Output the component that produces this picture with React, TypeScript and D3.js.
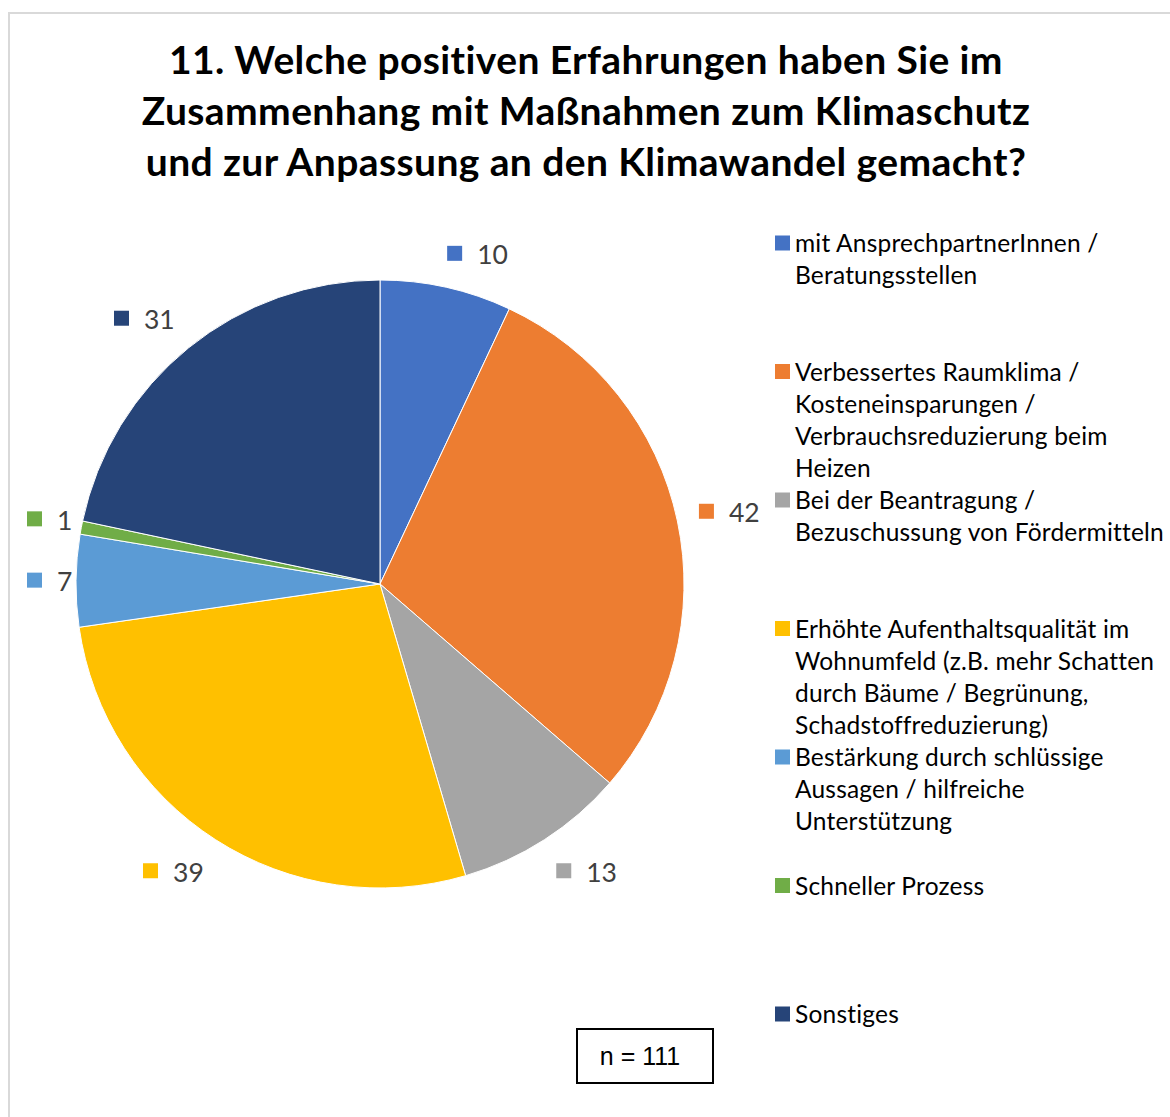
import { useRef, useEffect } from 'react';
import * as d3 from 'd3';

const W = 1170;
const H = 1117;

const titleLines = [
  '11. Welche positiven Erfahrungen haben Sie im',
  'Zusammenhang mit Maßnahmen zum Klimaschutz',
  'und zur Anpassung an den Klimawandel gemacht?',
];

const categories = [
  'mit AnsprechpartnerInnen / Beratungsstellen',
  'Verbessertes Raumklima / Kosteneinsparungen / Verbrauchsreduzierung beim Heizen',
  'Bei der Beantragung / Bezuschussung von Fördermitteln',
  'Erhöhte Aufenthaltsqualität im Wohnumfeld (z.B. mehr Schatten durch Bäume / Begrünung, Schadstoffreduzierung)',
  'Bestärkung durch schlüssige Aussagen / hilfreiche Unterstützung',
  'Schneller Prozess',
  'Sonstiges',
];

// legend text as wrapped in the original
const legendLines = [
  ['mit AnsprechpartnerInnen /', 'Beratungsstellen'],
  ['Verbessertes Raumklima /', 'Kosteneinsparungen /', 'Verbrauchsreduzierung beim', 'Heizen'],
  ['Bei der Beantragung /', 'Bezuschussung von Fördermitteln'],
  ['Erhöhte Aufenthaltsqualität im', 'Wohnumfeld (z.B. mehr Schatten', 'durch Bäume / Begrünung,', 'Schadstoffreduzierung)'],
  ['Bestärkung durch schlüssige', 'Aussagen / hilfreiche', 'Unterstützung'],
  ['Schneller Prozess'],
  ['Sonstiges'],
];

const values = [10, 42, 13, 39, 7, 1, 31];
const colors = ['#4472C4', '#ED7D31', '#A5A5A5', '#FFC000', '#5B9BD5', '#70AD47', '#264478'];
const sampleSize = 111;

export default function App() {
  const svgRef = useRef<SVGSVGElement>(null);

  useEffect(() => {
    if (!svgRef.current) return;
    const svg = d3.select(svgRef.current);
    svg.selectAll('*').remove();

    // chart area border (runs off right/bottom)
    svg.append('path')
      .attr('d', `M9,${H + 5}V13H${W + 5}`)
      .attr('fill', 'none')
      .attr('stroke', '#d9d9d9')
      .attr('stroke-width', 2);

    // Title
    const title = svg.append('text')
      .attr('text-anchor', 'middle')
      .attr('font-family', 'Lato, sans-serif')
      .attr('font-weight', 700)
      .attr('font-size', 39)
      .attr('letter-spacing', 0.4)
      .attr('fill', '#000');
    titleLines.forEach((t, i) => {
      title.append('tspan').attr('x', 586).attr('y', 74 + i * 51).text(t);
    });

    // Pie
    const cx = 380, cy = 584, r = 304;
    const pie = d3.pie<number>().sort(null).value((d) => d);
    const arcs = pie(values);
    const arc = d3.arc<d3.PieArcDatum<number>>().innerRadius(0).outerRadius(r);
    const anchorArc = d3.arc<d3.PieArcDatum<number>>().innerRadius(326).outerRadius(326);

    const g = svg.append('g').attr('transform', `translate(${cx},${cy})`);
    g.selectAll('path.slice')
      .data(arcs)
      .join('path')
      .attr('class', 'slice')
      .attr('d', arc)
      .attr('fill', (_, i) => colors[i])
      .attr('stroke', '#fff')
      .attr('stroke-width', 1);

    // Data labels: square marker + value, pushed outward from the mid-angle anchor
    const clamp = (v: number) => Math.max(-1, Math.min(1, v));
    const boxH = 25;
    arcs.forEach((a, i) => {
      const [ax, ay] = anchorArc.centroid(a);
      const mid = (a.startAngle + a.endAngle) / 2;
      const lg = g.append('g');
      const txt = lg.append('text')
        .attr('font-family', 'Lato, sans-serif')
        .attr('font-size', 26.5)
        .attr('fill', '#404040')
        .attr('dominant-baseline', 'central')
        .text(String(values[i]));
      const tw = (txt.node() as SVGTextElement).getComputedTextLength();
      const boxW = 15 + 15 + tw;
      const bcx = ax + (boxW / 2) * clamp(Math.sin(mid) * 4);
      const bcy = ay + (boxH / 2) * clamp(-Math.cos(mid) * 2);
      const x0 = Math.max(27 - cx, bcx - boxW / 2);
      lg.insert('rect', 'text')
        .attr('x', x0)
        .attr('y', bcy - 7.5)
        .attr('width', 15)
        .attr('height', 15)
        .attr('fill', colors[i]);
      txt.attr('x', x0 + 30).attr('y', bcy + 1);
    });

    // Legend
    const ly = d3.scaleLinear().domain([0, categories.length - 1]).range([243, 1014]);
    const leg = svg.append('g');
    legendLines.forEach((lines, i) => {
      const y = ly(i);
      leg.append('rect')
        .attr('x', 775)
        .attr('y', y - 7.5)
        .attr('width', 15)
        .attr('height', 15)
        .attr('fill', colors[i]);
      const t = leg.append('text')
        .attr('font-family', 'Lato, sans-serif')
        .attr('font-size', 24.5)
        .attr('letter-spacing', 0.2)
        .attr('fill', '#000');
      lines.forEach((line, j) => {
        t.append('tspan')
          .attr('x', 795)
          .attr('y', y + 9 + j * 32)
          .text(line);
      });
    });

    // n box
    svg.append('rect')
      .attr('x', 577)
      .attr('y', 1029)
      .attr('width', 136)
      .attr('height', 54)
      .attr('fill', '#fff')
      .attr('stroke', '#000')
      .attr('stroke-width', 2);
    svg.append('text')
      .attr('x', 640)
      .attr('y', 1065)
      .attr('text-anchor', 'middle')
      .attr('font-family', '"Liberation Sans", Arial, sans-serif')
      .attr('font-size', 25)
      .attr('fill', '#000')
      .text(`n = ${sampleSize}`);
  }, []);

  return (
    <svg
      ref={svgRef}
      width={W}
      height={H}
      style={{ position: 'absolute', left: 0, top: 0, display: 'block', background: '#fff' }}
    />
  );
}
